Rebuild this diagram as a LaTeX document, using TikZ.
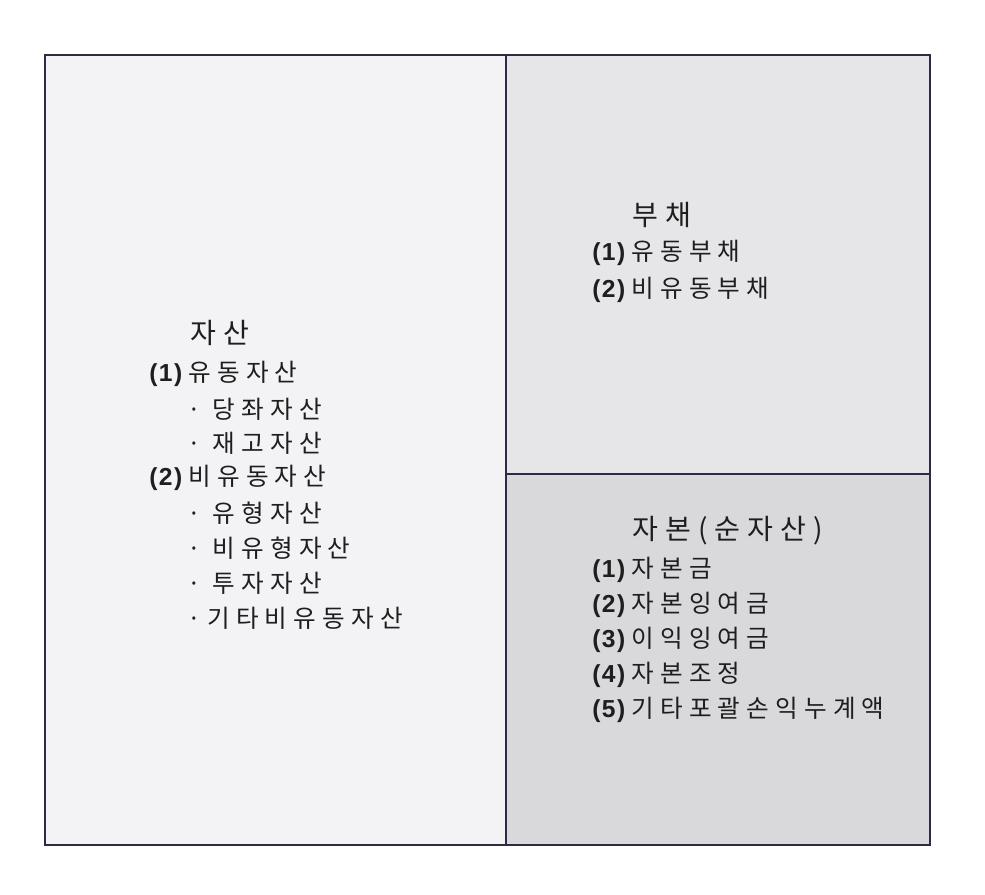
\documentclass[tikz,border=0pt]{standalone}
\usepackage{fontspec}
\usepackage{xcolor}
\usepackage{tikz}
\setmainfont{Liberation Sans}
\newfontfamily\kr[LetterSpace=25]{Noto Sans CJK KR}
\newfontfamily\numfont[LetterSpace=6]{Liberation Sans}
\definecolor{edge}{HTML}{2B2B45}
\definecolor{assetfill}{HTML}{F3F3F5}
\definecolor{debtfill}{HTML}{E6E6E9}
\definecolor{equityfill}{HTML}{D9D9DC}
\definecolor{ink}{HTML}{1E1E1E}
\tikzset{
  title/.style={anchor=west,inner sep=0pt,text=ink,font=\kr\fontsize{16}{18}\selectfont},
  item/.style={anchor=west,inner sep=0pt,text=ink,font=\kr\fontsize{14}{16}\selectfont}
}
\newcommand{\num}[1]{{\numfont\bfseries(#1)}\hspace{3.5pt}}

\begin{document}
\begin{tikzpicture}[x=0.2mm,y=-0.2mm]
\useasboundingbox (0,0) rectangle (985,895);
% the three boxes
\draw[edge,line width=1pt,fill=assetfill]  (45,55) rectangle (506,845);
\draw[edge,line width=1pt,fill=debtfill]   (506,55) rectangle (930,474);
\draw[edge,line width=1pt,fill=equityfill] (506,474) rectangle (930,845);

% 자산
\node[title] (Asset) at (190,333) {자산};
\node[item]  (A1)  at (149,374) {\num{1}유동자산};
\node[item]  (A11) at (187,409) {· 당좌자산};
\node[item]  (A12) at (187,443) {· 재고자산};
\node[item]  (A2)  at (149,478) {\num{2}비유동자산};
\node[item]  (A21) at (187,513) {· 유형자산};
\node[item]  (A22) at (187,548) {· 비유형자산};
\node[item]  (A23) at (187,583) {· 투자자산};
\node[item]  (A24) at (187,618) {·기타비유동자산};

% 부채
\node[title] (Debt) at (632,215) {부채};
\node[item]  (D1) at (592,253) {\num{1}유동부채};
\node[item]  (D2) at (592,290) {\num{2}비유동부채};

% 자본
\node[title] (Equity) at (632,531) {자본(순자산)};
\node[item]  (E1) at (592,570) {\num{1}자본금};
\node[item]  (E2) at (592,605) {\num{2}자본잉여금};
\node[item]  (E3) at (592,640) {\num{3}이익잉여금};
\node[item]  (E4) at (592,675) {\num{4}자본조정};
\node[item]  (E5) at (592,710) {\num{5}기타포괄손익누계액};

\end{tikzpicture}
\end{document}
